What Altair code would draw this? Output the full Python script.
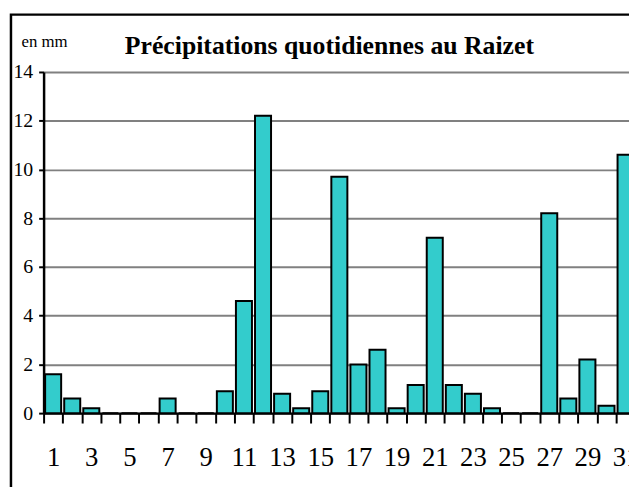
import altair as alt
import pandas as pd

days = list(range(1, 32))
rain = [1.6, 0.6, 0.2, 0, 0, 0, 0.6, 0, 0, 0.9,
        4.6, 12.2, 0.8, 0.2, 0.9, 9.7, 2.0, 2.6, 0.2, 1.15,
        7.2, 1.15, 0.8, 0.2, 0, 0, 8.2, 0.6, 2.2, 0.3, 10.6]
y_ticks = [0, 2, 4, 6, 8, 10, 12, 14]
x_labels = list(range(1, 32, 2))
boundaries = [d + 0.5 for d in range(0, 32)]
title_text = "Précipitations quotidiennes au Raizet"
unit_text = "en mm"

FONT = "Liberation Serif"
W, H = 592, 345

df = pd.DataFrame({"day": days, "rain": rain})
xscale = alt.Scale(domain=[0.5, 31.18], nice=False, zero=False)
yscale = alt.Scale(domain=[0, 14], nice=False)

bars = alt.Chart(df).transform_calculate(
    x0="datum.day - 0.42", x1="datum.day + 0.42"
).mark_bar(fill="#33CCCC", stroke="black", strokeWidth=2).encode(
    x=alt.X("x0:Q", scale=xscale,
            axis=alt.Axis(values=boundaries, labels=False, ticks=True, tickSize=10,
                          tickWidth=2, tickColor="black", domainColor="black",
                          domainWidth=2.5, grid=False, title=None, orient="bottom")),
    x2="x1:Q",
    y=alt.Y("rain:Q", scale=yscale, stack=None,
            axis=alt.Axis(values=y_ticks, title=None, tickSize=5, tickWidth=2,
                          tickColor="black", domainColor="black", domainWidth=2.5,
                          grid=True, gridColor="#808080", gridWidth=2,
                          labelFont=FONT, labelFontSize=20, labelColor="black",
                          labelPadding=6)),
    y2=alt.datum(0),
)

labels_layer = alt.Chart(df).mark_point(opacity=0).encode(
    x=alt.X("day:Q", scale=xscale,
            axis=alt.Axis(values=x_labels, ticks=False, domain=False, grid=False,
                          labelFont=FONT, labelFontSize=27, labelColor="black",
                          labelPadding=32, labelFlush=False, labelOverlap=False,
                          title=None, orient="bottom")),
    y=alt.value(0),
)

frame = alt.Chart(pd.DataFrame({"a": [0]})).mark_rect(
    fillOpacity=0, stroke="black", strokeWidth=2.5
).encode(x=alt.value(-33), x2=alt.value(700), y=alt.value(-58), y2=alt.value(600))

unit = alt.Chart(pd.DataFrame({"t": [unit_text]})).mark_text(
    font=FONT, fontSize=17, align="center", baseline="alphabetic", color="black"
).encode(x=alt.value(1), y=alt.value(-25), text="t:N")

title = alt.Chart(pd.DataFrame({"t": [title_text]})).mark_text(
    font=FONT, fontSize=26, fontWeight="bold", align="center",
    baseline="alphabetic", color="black"
).encode(x=alt.value(289), y=alt.value(-18), text="t:N")

chart = alt.layer(bars, labels_layer, frame, unit, title).resolve_axis(
    x="independent"
).properties(
    width=W, height=H,
    autosize=alt.AutoSizeParams(type="none"),
    padding={"left": 36, "top": 62, "right": 0, "bottom": 72},
    background="white",
).configure_view(stroke=None)

chart.save("out.html", embed_options={"renderer": "svg", "actions": False})
